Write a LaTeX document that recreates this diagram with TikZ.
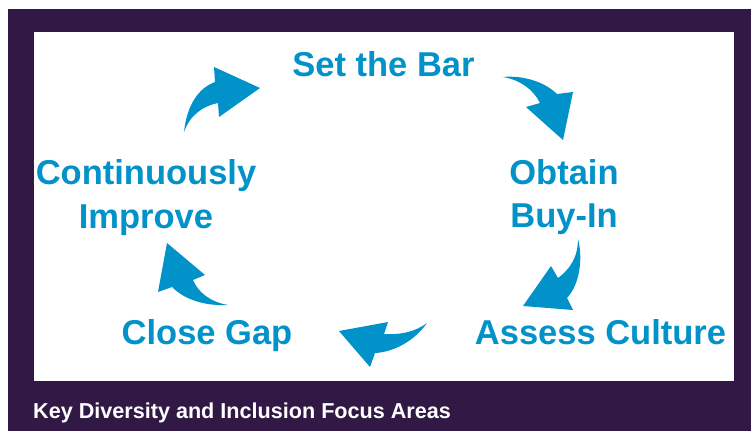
\documentclass[tikz,border=0pt]{standalone}
\usepackage{fontspec}
\setmainfont{Liberation Sans}
\definecolor{bgpurple}{RGB}{50,24,68}
\definecolor{cycblue}{RGB}{0,146,200}
\tikzset{
  lbl/.style={text=cycblue, font=\bfseries\fontsize{34.5}{43.5}\selectfont, inner sep=0pt, anchor=base, align=center},
  cyarrow/.style={fill=cycblue, draw=none},
  caption/.style={text=white, font=\bfseries\fontsize{21.6}{26}\selectfont, inner sep=0pt, anchor=base west}
}
\begin{document}
\begin{tikzpicture}[x=1pt,y=-1pt]
\useasboundingbox (0,0) rectangle (751,431);
\fill[white] (0,0) rectangle (751,431);
\fill[bgpurple] (8,9) rectangle (751,431);
\fill[white] (34,32) rectangle (734,381);

% labels (base anchor = baseline of the last line)
\node[lbl] (setbar) at (383.5,76) {Set the Bar};
\node[lbl] (obtain) at (564,227.5) {Obtain\\Buy-In};
\node[lbl] (assess) at (600.5,344) {Assess Culture};
\node[lbl] (close) at (207,344) {Close Gap};
\node[lbl] (improve) at (146,228) {Continuously\\Improve};

% arrows
% top-left: Continuously Improve -> Set the Bar
\fill[cyarrow] (184,132) .. controls (187,104) and (199,88) .. (215,82)
  -- (214,67) -- (260,88) -- (219,117) -- (218,103)
  .. controls (203,106) and (190,115) .. cycle;
% top-right: Set the Bar -> Obtain Buy-In
\fill[cyarrow] (503,77) .. controls (525,75) and (546,83) .. (557,94)
  -- (573,92) -- (563,140) -- (526,107) -- (540,103)
  .. controls (533,89) and (520,80) .. cycle;
% right: Obtain Buy-In -> Assess Culture
\fill[cyarrow] (578,239) .. controls (583,258) and (580,284) .. (567,298)
  -- (573,310) -- (523,306) -- (551,266) -- (558,278)
  .. controls (569,270) and (578,258) .. cycle;
% bottom: Assess Culture -> Close Gap
\fill[cyarrow] (427,323) .. controls (415,340) and (395,352) .. (375,353)
  -- (370,367) -- (339,331) -- (388,322) -- (384,334)
  .. controls (400,335) and (415,332) .. cycle;
% left: Close Gap -> Continuously Improve
\fill[cyarrow] (228,305) .. controls (210,302) and (198,292) .. (193,280)
  -- (205,275) -- (167,243) -- (158,292) -- (172,287)
  .. controls (185,300) and (205,306) .. cycle;

\node[caption] (cap) at (33,418) {Key Diversity and Inclusion Focus Areas};
\end{tikzpicture}
\end{document}
